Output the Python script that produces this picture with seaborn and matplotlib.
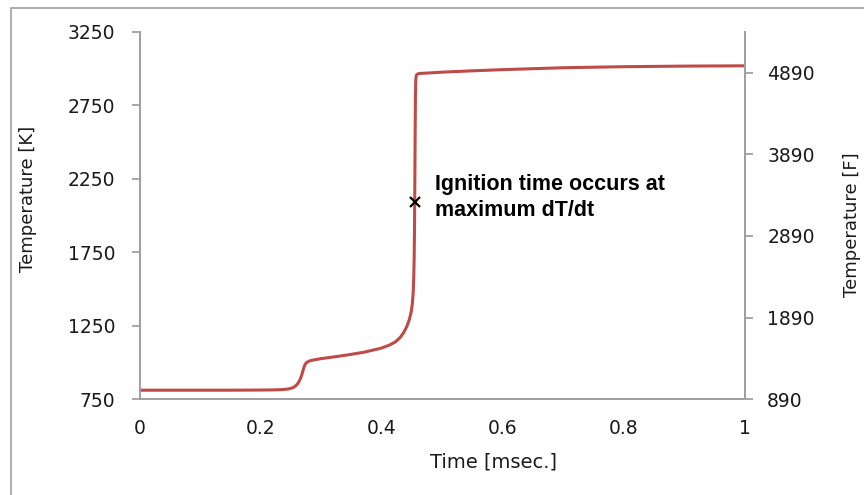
import numpy as np
import pandas as pd
import matplotlib
matplotlib.use("Agg")
import matplotlib.pyplot as plt
from matplotlib.patches import Rectangle
import seaborn as sns

# temperature trace
time_ms = [0.0, 0.05, 0.10, 0.15, 0.20, 0.22, 0.235, 0.245, 0.252, 0.257,
           0.261, 0.264, 0.267, 0.269, 0.271, 0.273, 0.275, 0.278, 0.282,
           0.290, 0.300, 0.320, 0.342, 0.370, 0.398, 0.412, 0.422, 0.430,
           0.436, 0.441, 0.445, 0.448, 0.450, 0.4515, 0.4525, 0.4532,
           0.4537, 0.4541, 0.4545, 0.4549, 0.4553, 0.4558, 0.4565, 0.458,
           0.462, 0.480, 0.500, 0.550, 0.600, 0.700, 0.800, 0.900, 1.000]
temp_k = [812, 812, 812, 812, 813, 814, 816, 820, 828, 840,
          858, 880, 910, 940, 968, 988, 998, 1007, 1013,
          1020, 1027, 1038, 1051, 1070, 1097, 1118, 1140, 1170,
          1205, 1245, 1290, 1340, 1395, 1470, 1580, 1720,
          1900, 2120, 2380, 2620, 2820, 2920, 2950, 2961,
          2966, 2970, 2975, 2984, 2992, 3005, 3012, 3016, 3018]

ign_t = 0.4545
ign_k = 2094
note = "Ignition time occurs at\nmaximum dT/dt"

k_ticks = [750, 1250, 1750, 2250, 2750, 3250]
f_ticks = [890, 1890, 2890, 3890, 4890]
x_ticks = [0, 0.2, 0.4, 0.6, 0.8, 1]

df = pd.DataFrame({"time": time_ms, "temp": temp_k})

sns.set_style("white")
plt.rcParams["font.family"] = ["DejaVu Sans"]

grey = "#a0a0a0"
txt = "#1a1a1a"
red = "#be4b48"

fig = plt.figure(figsize=(8.64, 4.95), dpi=100)
ax = fig.add_axes([140 / 864, 1 - 399.3 / 495, 605 / 864, 367.6 / 495])

# outer chart frame (only left/top edges visible)
fig.add_artist(Rectangle((11 / 864, -0.1), 1.2, 1 - 8 / 495 + 0.1,
                         transform=fig.transFigure, fill=False,
                         edgecolor="#a6a6a6", lw=1.3, clip_on=False))

sns.lineplot(data=df, x="time", y="temp", ax=ax, color=red, lw=2.2)
ax.plot([ign_t], [ign_k], marker="x", color="black", ms=7, mew=1.6, ls="none")
ax.text(0.488, 2125, note, fontsize=15.5, fontweight="bold",
        family=["Liberation Sans"], va="center", ha="left", color="black",
        linespacing=1.3)

ax.set_xlim(0, 1)
ax.set_ylim(750, 3250)
ax.set_xticks(x_ticks)
ax.set_xticklabels(["0", "0.2", "0.4", "0.6", "0.8", "1"])
ax.set_xticks(np.arange(0, 1.001, 0.05), minor=True)
ax.set_yticks(k_ticks)

ax2 = ax.twinx()
ax2.set_ylim(890, 5390)
ax2.set_yticks(f_ticks)

for a in (ax, ax2):
    a.spines["top"].set_visible(False)
    for s in ("left", "right", "bottom"):
        a.spines[s].set_color(grey)
        a.spines[s].set_linewidth(1.3)

ax.tick_params(axis="x", which="major", direction="inout", length=10,
               width=1.3, color=grey, labelsize=13.5, labelcolor=txt, pad=9)
ax.tick_params(axis="x", which="minor", direction="out", length=4,
               width=1.3, color=grey)
ax.tick_params(axis="y", direction="out", length=6, width=1.3, color=grey,
               labelsize=13.5, labelcolor=txt, pad=12, left=True)
ax2.tick_params(axis="y", direction="out", length=6, width=1.3, color=grey,
                labelsize=13.5, labelcolor=txt, pad=10, right=True)

ax.set_xlabel("Time [msec.]", fontsize=14, color=txt)
ax.set_ylabel("Temperature [K]", fontsize=13, color=txt)
ax2.set_ylabel("Temperature [F]", fontsize=13, color=txt)
ax.xaxis.set_label_coords((493 - 140) / 605, (399.3 - 453) / 367.6)
ax.yaxis.set_label_coords((37 - 140) / 605, (399.3 - 199) / 367.6)
ax2.yaxis.set_label_coords((843 - 140) / 605, (399.3 - 225) / 367.6)

fig.savefig("out.png", dpi=100)
